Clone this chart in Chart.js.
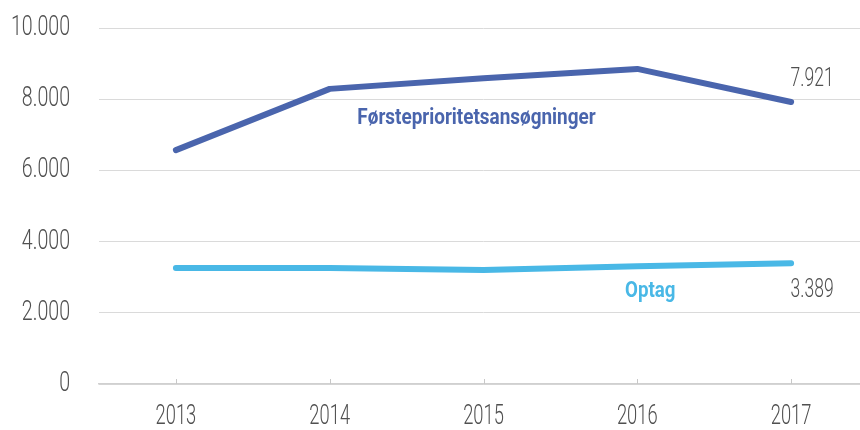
<!DOCTYPE html>
<html lang="da">
<head>
  <meta charset="UTF-8" />
  <title>Førsteprioritetsansøgninger og optag</title>
  <script src="https://cdn.jsdelivr.net/npm/chart.js"></script>
  <style>
    html, body { margin: 0; padding: 0; background: #fff; overflow: hidden; }
    /* plot runs a few px past the right edge, as in the original */
    #wrap { width: 868px; height: 430px; }
  </style>
</head>
<body>
  <div id="wrap"><canvas id="chart"></canvas></div>
  <script>
    const years = ['2013', '2014', '2015', '2016', '2017'];
    const ansoegninger = [6570, 8290, 8590, 8850, 7921];
    const optag = [3260, 3260, 3200, 3310, 3389];
    const yTicks = [0, 2000, 4000, 6000, 8000, 10000];

    const FONT = 'Roboto, "Noto Sans", sans-serif';
    const fmt = v => String(v).replace(/\B(?=(\d{3})+(?!\d))/g, '.');

    // no condensed font installed, so squeeze horizontally
    function narrowText(ctx, text, x, y, align, font, color, squeeze) {
      ctx.save();
      ctx.translate(x, y);
      ctx.scale(squeeze, 1);
      ctx.font = font;
      ctx.fillStyle = color;
      ctx.textAlign = align;
      ctx.textBaseline = 'middle';
      ctx.fillText(text, 0, 0);
      ctx.restore();
    }

    const labelPlugin = {
      id: 'lineLabels',
      afterDatasetsDraw(chart) {
        const { ctx, scales: { x, y } } = chart;
        const tickFont = '300 28px ' + FONT;

        // axis tick labels
        y.ticks.forEach(t => {
          narrowText(ctx, fmt(t.value), x.left - 29, y.getPixelForValue(t.value), 'right', tickFont, '#505050', 0.7);
        });
        years.forEach((yr, i) => {
          narrowText(ctx, yr, x.getPixelForValue(i), y.bottom + 33, 'center', '300 27px ' + FONT, '#505050', 0.68);
        });

        // small tick marks standing on the x axis
        ctx.save();
        ctx.strokeStyle = '#c8c8c8';
        ctx.lineWidth = 1;
        years.forEach((_, i) => {
          const px = Math.round(x.getPixelForValue(i)) + 0.5;
          ctx.beginPath();
          ctx.moveTo(px, y.bottom - 5);
          ctx.lineTo(px, y.bottom);
          ctx.stroke();
        });
        ctx.restore();

        // series names
        narrowText(ctx, 'Førsteprioritetsansøgninger', x.getPixelForValue(2) - 7,
          y.getPixelForValue(ansoegninger[2]) + 40, 'center', 'bold 22px ' + FONT, '#4a65ad', 0.86);
        narrowText(ctx, 'Optag', x.getPixelForValue(3) + 13,
          y.getPixelForValue(optag[3]) + 25, 'center', 'bold 22px ' + FONT, '#49b8e6', 0.85);

        // end values
        const last = years.length - 1;
        narrowText(ctx, fmt(ansoegninger[last]), x.getPixelForValue(last) + 21,
          y.getPixelForValue(ansoegninger[last]) - 22, 'center', '300 25px ' + FONT, '#505050', 0.7);
        narrowText(ctx, fmt(optag[last]), x.getPixelForValue(last) + 21,
          y.getPixelForValue(optag[last]) + 27, 'center', '300 25px ' + FONT, '#505050', 0.7);
      }
    };

    new Chart(document.getElementById('chart'), {
      type: 'line',
      data: {
        labels: years,
        datasets: [
          {
            label: 'Førsteprioritetsansøgninger',
            data: ansoegninger,
            borderColor: '#4a65ad',
            borderWidth: 6,
            borderCapStyle: 'round',
            borderJoinStyle: 'round',
            pointRadius: 0,
            tension: 0
          },
          {
            label: 'Optag',
            data: optag,
            borderColor: '#49b8e6',
            borderWidth: 6,
            borderCapStyle: 'round',
            borderJoinStyle: 'round',
            pointRadius: 0,
            tension: 0
          }
        ]
      },
      options: {
        responsive: true,
        maintainAspectRatio: false,
        animation: false,
        layout: { padding: { top: 28, right: 0, left: 0, bottom: 0 } },
        plugins: {
          legend: { display: false },
          tooltip: { enabled: false }
        },
        scales: {
          x: {
            offset: true,
            afterFit: s => { s.height = 46; },
            grid: { display: false },
            border: { display: true, color: '#d0d0d0', width: 1.5 },
            ticks: { display: false }
          },
          y: {
            min: 0,
            max: 10000,
            afterFit: s => { s.width = 99; },
            afterBuildTicks: s => { s.ticks = yTicks.map(v => ({ value: v })); },
            grid: { color: '#dadada', drawTicks: false },
            border: { display: false },
            ticks: { display: false }
          }
        }
      },
      plugins: [labelPlugin]
    });
  </script>
</body>
</html>
